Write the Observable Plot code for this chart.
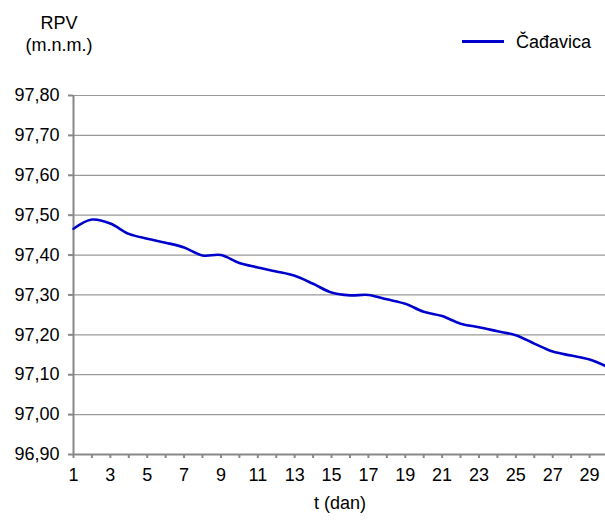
<!DOCTYPE html>
<html>
<head>
<meta charset="utf-8">
<script src="https://cdn.jsdelivr.net/npm/d3@7"></script>
<script src="https://cdn.jsdelivr.net/npm/@observablehq/plot@0.6"></script>
<style>
  html, body { margin: 0; padding: 0; background: #fff; }
  #wrap { position: relative; width: 605px; height: 530px; overflow: hidden; font-family: "Liberation Sans", Arial, sans-serif; font-size: 18px; color: #000; }
  .lbl { position: absolute; white-space: nowrap; line-height: 1; }
</style>
</head>
<body>
<div id="wrap"></div>
<script>
const days = [1,2,3,4,5,6,7,8,9,10,11,12,13,14,15,16,17,18,19,20,21,22,23,24,25,26,27,28,29,30];
const cadavica = [97.466,97.489,97.479,97.453,97.441,97.431,97.419,97.399,97.400,97.380,97.369,97.359,97.348,97.328,97.306,97.299,97.300,97.289,97.278,97.258,97.247,97.228,97.219,97.209,97.199,97.178,97.158,97.148,97.138,97.119];
const yTicks = [96.9,97.0,97.1,97.2,97.3,97.4,97.5,97.6,97.7,97.8];
const xTickLabels = [1,3,5,7,9,11,13,15,17,19,21,23,25,27,29];
const seriesName = "Čađavica";
const yTitle1 = "RPV";
const yTitle2 = "(m.n.m.)";
const xTitle = "t (dan)";

const data = days.map((d, i) => ({day: d, value: cadavica[i]}));
const fmt = v => v.toFixed(2).replace(".", ",");

const chart = Plot.plot({
  width: 605,
  height: 530,
  marginLeft: 73,
  marginRight: -2.5,
  marginTop: 95,
  marginBottom: 76,
  style: {fontFamily: "Liberation Sans, Arial, sans-serif", fontSize: "18px", color: "#000", background: "#fff", overflow: "visible"},
  x: {domain: [1, 30]},
  y: {domain: [96.9, 97.8]},
  marks: [
    Plot.gridY(yTicks, {stroke: "#999", strokeOpacity: 1, strokeWidth: 1.2}),
    Plot.ruleY([96.9], {stroke: "#888", strokeWidth: 2}),
    Plot.ruleX([1], {stroke: "#888", strokeWidth: 2}),
    Plot.axisY({ticks: yTicks, tickFormat: fmt, tickSize: 5, tickPadding: 9, stroke: "#888", strokeWidth: 2, label: null}),
    Plot.axisX({ticks: days, tickFormat: () => "", tickSize: 4, stroke: "#888", strokeWidth: 2, label: null}),
    Plot.axisX({ticks: xTickLabels, tickFormat: d => String(d), tickSize: 0, tickPadding: 14, label: null}),
    Plot.line(data, {x: "day", y: "value", stroke: "#0000CC", strokeWidth: 2.6, curve: "catmull-rom"})
  ]
});

const wrap = document.getElementById("wrap");
wrap.appendChild(chart);

function addLabel(text, left, top, center) {
  const el = document.createElement("div");
  el.className = "lbl";
  el.textContent = text;
  el.style.top = top + "px";
  if (center) { el.style.left = (left - 60) + "px"; el.style.width = "120px"; el.style.textAlign = "center"; }
  else { el.style.left = left + "px"; }
  wrap.appendChild(el);
  return el;
}
addLabel(yTitle1, 59, 14, true);
addLabel(yTitle2, 59, 36, true);
addLabel(seriesName, 516, 33, false);
const leg = document.createElement("div");
leg.style.cssText = "position:absolute;left:462px;top:40px;width:42px;height:0;border-top:3px solid #0000CC;";
wrap.appendChild(leg);
addLabel(xTitle, 340, 494, true);
</script>
</body>
</html>
